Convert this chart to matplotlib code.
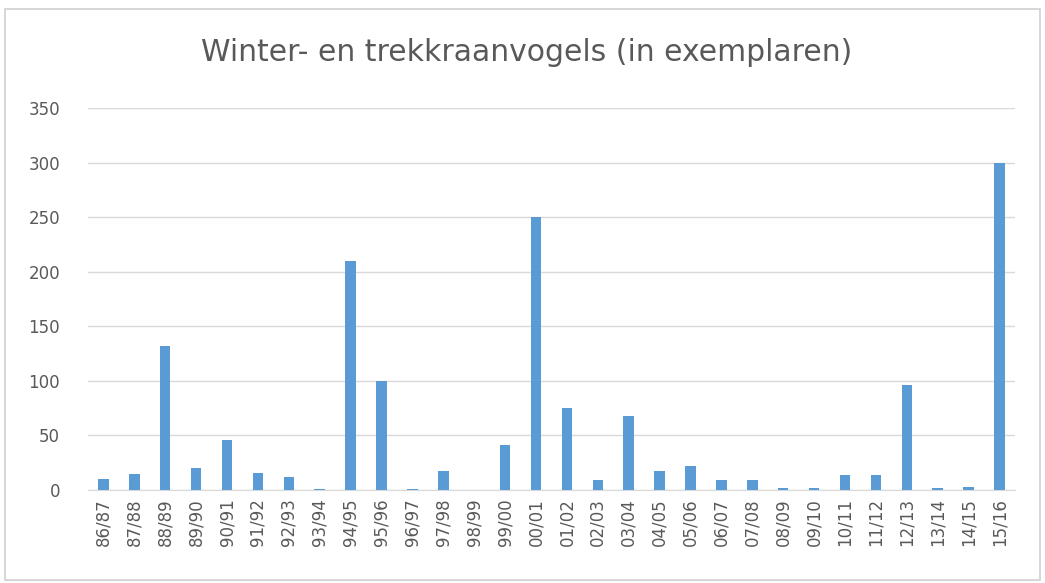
import matplotlib.pyplot as plt
from matplotlib.patches import Rectangle

SEIZOENEN = ["86/87", "87/88", "88/89", "89/90", "90/91", "91/92", "92/93", "93/94",
             "94/95", "95/96", "96/97", "97/98", "98/99", "99/00", "00/01", "01/02",
             "02/03", "03/04", "04/05", "05/06", "06/07", "07/08", "08/09", "09/10",
             "10/11", "11/12", "12/13", "13/14", "14/15", "15/16"]
AANTALLEN = [10, 15, 132, 20, 46, 16, 12, 1,
             210, 100, 1, 17, 0, 41, 250, 75,
             9, 68, 17, 22, 9, 9, 2, 2,
             14, 14, 96, 2, 3, 300]
Y_TICKS = [0, 50, 100, 150, 200, 250, 300, 350]

BLAUW = "#5B9BD5"
TEKST = "#595959"
GRID = "#D9D9D9"

fig = plt.figure(figsize=(10.45, 5.83), dpi=100)
ax = fig.add_axes([0.0842, 0.1595, 0.887, 0.655])

x = range(len(SEIZOENEN))
ax.bar(x, AANTALLEN, width=0.34, color=BLAUW, zorder=3)

ax.set_xlim(-0.5, len(SEIZOENEN) - 0.5)
ax.set_ylim(0, 350)
ax.set_yticks(Y_TICKS)
ax.set_xticks(list(x))
ax.set_xticklabels(SEIZOENEN, rotation=90)
ax.tick_params(axis="both", length=0, labelsize=12, labelcolor=TEKST)
ax.tick_params(axis="y", pad=20)
ax.tick_params(axis="x", pad=6)
ax.grid(axis="y", color=GRID, linewidth=1, zorder=0)
for s in ["top", "right", "left"]:
    ax.spines[s].set_visible(False)
ax.spines["bottom"].set_color(GRID)

fig.text(0.504, 0.91, "Winter- en trekkraanvogels (in exemplaren)",
         ha="center", va="center", fontsize=21.5, color=TEKST)

fig.patches.append(Rectangle((0.005, 0.006), 0.99, 0.978, transform=fig.transFigure,
                             fill=False, edgecolor="#D0D0D0", linewidth=1.2))

plt.savefig("out.png", dpi=100)
